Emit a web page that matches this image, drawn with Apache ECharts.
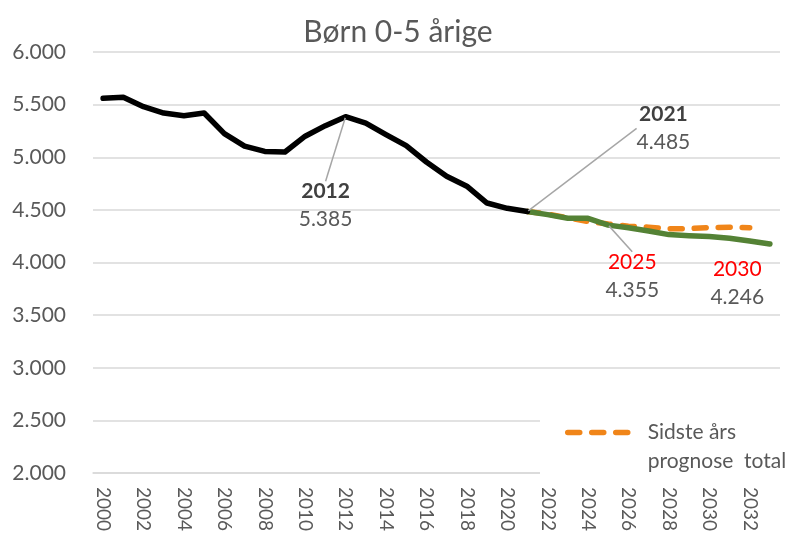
<!DOCTYPE html>
<html>
<head>
<meta charset="utf-8">
<script src="https://cdn.jsdelivr.net/npm/echarts@6/dist/echarts.min.js"></script>
<style>
html, body { margin: 0; padding: 0; background: #fff; }
#chart { width: 796px; height: 536px; }
</style>
</head>
<body>
<div id="chart"></div>
<script>
const years = ['2000', '2001', '2002', '2003', '2004', '2005', '2006', '2007', '2008', '2009',
    '2010', '2011', '2012', '2013', '2014', '2015', '2016', '2017', '2018', '2019',
    '2020', '2021', '2022', '2023', '2024', '2025', '2026', '2027', '2028', '2029',
    '2030', '2031', '2032', '2033'];

// faktisk antal boern 0-5 aar
const faktisk = [5560, 5570, 5480, 5420, 5395, 5420, 5225, 5105, 5055, 5050,
    5200, 5300, 5385, 5325, 5215, 5110, 4955, 4820, 4725, 4565,
    4515, 4485, null, null, null, null, null, null, null, null,
    null, null, null, null];

// prognose total (groen)
const prognose = [null, null, null, null, null, null, null, null, null, null,
    null, null, null, null, null, null, null, null, null, null,
    null, 4485, 4455, 4420, 4420, 4355, 4330, 4300, 4265, 4255,
    4246, 4230, 4205, 4175];

// sidste aars prognose (orange, stiplet)
const sidsteAar = [null, null, null, null, null, null, null, null, null, null,
    null, null, null, null, null, null, null, null, null, null,
    null, 4485, 4460, 4425, 4390, 4365, 4345, 4335, 4320, 4322,
    4332, 4335, 4330, null];

const yTicks = [2000, 2500, 3000, 3500, 4000, 4500, 5000, 5500, 6000];

// aar med annotation
const faktiskLabels = ['2012', '2021'];
const prognoseLabels = ['2025', '2030'];

const font = 'Lato';
const grey = '#595959';

function fmt(v) {
    return String(Math.round(v)).replace(/\B(?=(\d{3})+(?!\d))/g, '.');
}

// label offsets (dx, dy) from point to label centre
const labelOffsets = {
    '2012': [-20, 89],
    '2021': [136, -83],
    '2025': [24, 51],
    '2030': [28, 47]
};

function buildData(values, labelYears, red) {
    return values.map(function (v, i) {
        const yr = years[i];
        if (labelYears.indexOf(yr) < 0 || v == null) return v;
        return {
            value: v,
            symbol: 'circle',
            symbolSize: 2,
            label: {
                show: true,
                position: 'inside',
                formatter: function (p) {
                    return (red ? '{r|' : '{y|') + p.name + '}\n{v|' + fmt(p.value) + '}';
                },
                rich: {
                    y: { fontFamily: font, fontSize: 21, fontWeight: 'bold', color: '#404040', lineHeight: 28 },
                    r: { fontFamily: font, fontSize: 21, color: '#ff0000', lineHeight: 28 },
                    v: { fontFamily: font, fontSize: 21, color: grey, lineHeight: 28 }
                }
            },
            labelLine: {
                show: yr !== '2030',
                lineStyle: { color: '#a6a6a6', width: 1.5 }
            }
        };
    });
}

var myChart = echarts.init(document.getElementById('chart'));

var layout = function (params) {
    const off = labelOffsets[years[params.dataIndex]];
    if (!off) return {};
    return { dx: off[0], dy: off[1] };
};

var option = {
    animation: false,
    title: {
        text: 'Børn 0-5 årige',
        left: 'center',
        top: 12,
        textStyle: { fontFamily: font, fontSize: 30, fontWeight: 'normal', color: grey }
    },
    legend: {
        data: ['Sidste års prognose total'],
        left: 540,
        top: 383,
        padding: [6, 2, 6, 25],
        backgroundColor: '#fff',
        itemWidth: 66,
        itemHeight: 5,
        formatter: function () { return '\nSidste års\nprognose  total'; },
        textStyle: { fontFamily: font, fontSize: 21, color: grey, lineHeight: 29, padding: [0, 0, 0, 9] },
        lineStyle: { width: 5.5, type: [12, 12], cap: 'round' }
    },
    grid: {
        left: 93,
        right: 16,
        top: 52,
        bottom: 63
    },
    xAxis: {
        type: 'category',
        boundaryGap: true,
        data: years,
        axisLine: { show: true, lineStyle: { color: '#d9d9d9', width: 1.5 } },
        axisTick: { show: false },
        axisLabel: {
            interval: 1,
            rotate: -90,
            margin: 14,
            fontFamily: font,
            fontSize: 19,
            color: grey
        }
    },
    yAxis: {
        type: 'value',
        min: yTicks[0],
        max: yTicks[yTicks.length - 1],
        interval: 500,
        axisLine: { show: false },
        axisTick: { show: false },
        splitLine: { lineStyle: { color: '#d9d9d9', width: 1.5 } },
        axisLabel: {
            margin: 27,
            fontFamily: font,
            fontSize: 21,
            color: grey,
            formatter: fmt
        }
    },
    series: [
        {
            name: 'Sidste års prognose total',
            type: 'line',
            symbol: 'none',
            data: sidsteAar,
            lineStyle: { color: '#F08519', width: 5.5, type: [12, 12], cap: 'round' },
            itemStyle: { color: '#F08519' },
            z: 2
        },
        {
            name: 'Prognose',
            type: 'line',
            symbol: 'none',
            data: buildData(prognose, prognoseLabels, true),
            lineStyle: { color: '#548235', width: 5.5, cap: 'round', join: 'round' },
            itemStyle: { color: '#548235' },
            labelLayout: layout,
            z: 3
        },
        {
            name: 'Faktisk',
            type: 'line',
            symbol: 'none',
            data: buildData(faktisk, faktiskLabels, false),
            lineStyle: { color: '#000000', width: 5.5, cap: 'round', join: 'round' },
            itemStyle: { color: '#000000' },
            labelLayout: layout,
            z: 4
        }
    ]
};

option && myChart.setOption(option);
</script>
</body>
</html>
